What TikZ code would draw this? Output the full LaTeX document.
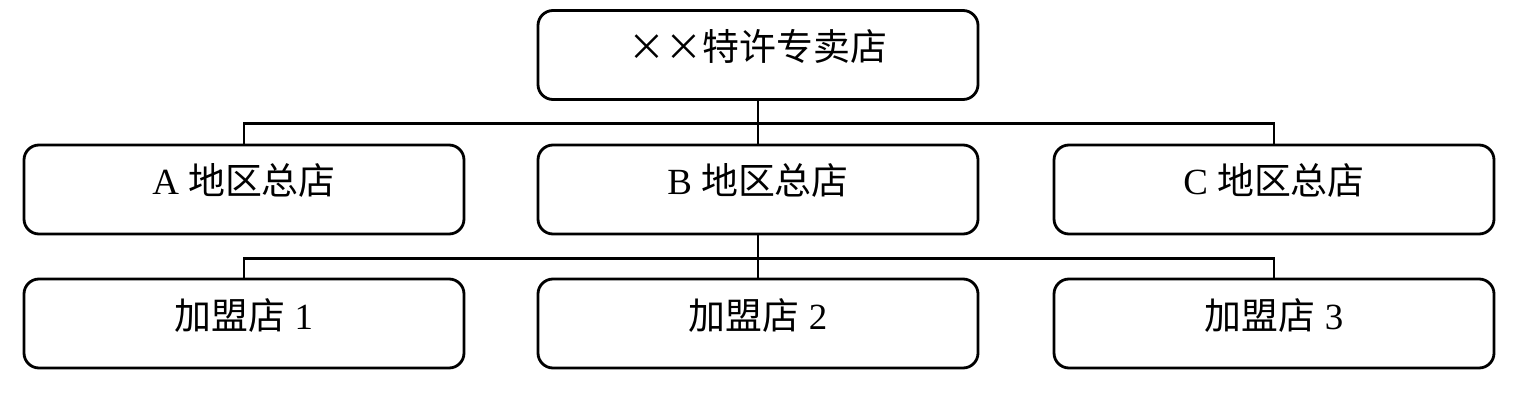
\documentclass[tikz,border=0pt]{standalone}
\usepackage{fontspec}
\setmainfont{Liberation Serif}
\newfontfamily\cjk{Noto Sans CJK SC}
\usepackage{tikz}

\tikzset{
  shopbox/.style={draw,line width=0.8pt,rounded corners=0.15cm,
    minimum width=4.4cm,minimum height=0.89cm,inner sep=0pt,
    text height=0.3cm,text depth=0.19cm,font=\fontsize{10.5pt}{12pt}\selectfont},
  link/.style={line width=0.8pt}
}

\begin{document}
\begin{tikzpicture}
        \useasboundingbox(0,0) rectangle (15.22,4.01);
        % head office
        \node[shopbox](hq)at(7.58,3.46){{\cjk ××特许专卖店}};
        % regional stores
        \node[shopbox](ra)at(2.44,2.115){A {\cjk 地区总店}};
        \node[shopbox](rb)at(7.58,2.115){B {\cjk 地区总店}};
        \node[shopbox](rc)at(12.74,2.115){C {\cjk 地区总店}};
        % franchise stores
        \node[shopbox](f1)at(2.44,0.775){{\cjk 加盟店} 1};
        \node[shopbox](f2)at(7.58,0.775){{\cjk 加盟店} 2};
        \node[shopbox](f3)at(12.74,0.775){{\cjk 加盟店} 3};
        % connectors
        \draw[link](hq.south)--++(0,-0.23) coordinate(j1);
        \draw[link](ra.north)|-(j1)-|(rc.north);
        \draw[link](j1)--(rb.north);
        \draw[link](rb.south)--++(0,-0.23) coordinate(j2);
        \draw[link](f1.north)|-(j2)-|(f3.north);
        \draw[link](j2)--(f2.north);
      \end{tikzpicture}
\end{document}
